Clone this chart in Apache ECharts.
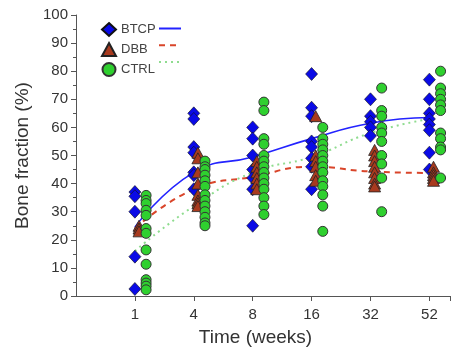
<!DOCTYPE html>
<html>
<head>
<meta charset="utf-8">
<script src="https://cdn.jsdelivr.net/npm/echarts@6/dist/echarts.min.js"></script>
<style>
  html, body { margin: 0; padding: 0; background: #fff; }
  #chart { width: 453px; height: 352px; }
</style>
</head>
<body>
<div id="chart"></div>
<script>
// time points (weeks), drawn at equal spacing
const weeks = ['1', '4', '8', '16', '32', '52'];

// individual measurements per time point
const btcpPoints = [
  [37, 35.5, 30, 14, 2.5],
  [65, 63, 53, 51, 44, 43, 38],
  [60, 56, 50, 45, 42, 38, 25],
  [79, 67, 64, 55, 53, 49, 46, 38],
  [70, 64, 62, 60, 57],
  [77, 70, 65, 63, 61, 59, 51, 45]
];
const dbbPoints = [
  [25, 24, 23],
  [51, 49, 44, 40, 36, 34, 33, 32],
  [48, 46, 44, 42, 40, 38],
  [64, 50, 48, 46, 43, 41],
  [52, 50, 48, 46, 44, 42, 40, 39],
  [46, 44, 43, 42, 41]
];
const ctrlPoints = [
  [35.8, 34, 32.9, 30.5, 28.7, 24, 22.3, 16.4, 11.3, 5.8, 4.6, 3.5, 2.2],
  [48, 46, 45, 43, 41, 39, 36, 34, 32, 30, 28, 26, 25],
  [69, 66, 56, 54, 50, 48, 46, 44, 42, 40, 38, 35, 32, 29],
  [60, 56, 54, 52, 50, 48, 46, 44, 41, 39, 36, 32, 23],
  [74, 66, 64, 60, 58, 55, 50, 47, 42, 30],
  [80, 74, 72, 70, 68, 66, 58, 56, 53, 52, 42]
];

// fitted curves at each time point
const btcpFit = [24.5, 44, 49.5, 56, 61.5, 63.5];
const dbbFit = [24, 38, 42.4, 46, 44.3, 43.8];
const ctrlFit = [16, 32, 44, 49.5, 58, 63];

const yTicks = [0, 10, 20, 30, 40, 50, 60, 70, 80, 90, 100];

function scatterData(groups, offset) {
  const out = [];
  groups.forEach((vals, i) => vals.forEach(v => out.push([i + offset, v])));
  return out;
}
function fitData(vals) {
  return vals.map((v, i) => [i, v]);
}

const chart = echarts.init(document.getElementById('chart'));
const axisColor = '#555';
const textColor = '#333';
const font = 'Liberation Sans, Arial, sans-serif';

chart.setOption({
  animation: false,
  textStyle: { fontFamily: font },
  grid: { left: 76, right: 0, top: 15, bottom: 54 },
  legend: [
    {
      data: ['BTCP', 'DBB', 'CTRL'],
      orient: 'vertical',
      left: 96,
      top: 17,
      itemWidth: 14,
      itemHeight: 13,
      itemGap: 5,
      textStyle: { fontSize: 13, color: '#444', fontFamily: font }
    },
    {
      data: ['BTCP fit', 'DBB fit', 'CTRL fit'],
      orient: 'vertical',
      left: 153,
      top: 17,
      itemWidth: 22,
      itemHeight: 13,
      itemGap: 5,
      formatter: () => '',
      itemStyle: { opacity: 0 },
      textStyle: { fontSize: 13 }
    }
  ],
  xAxis: {
    type: 'value',
    min: -1,
    max: 5.35,
    interval: 1,
    name: 'Time (weeks)',
    nameLocation: 'middle',
    nameGap: 32,
    nameTextStyle: { fontSize: 19, color: textColor, padding: [0, 15, 0, 0] },
    axisLine: { show: true, onZero: false, lineStyle: { color: axisColor } },
    axisTick: { show: true, length: 5, lineStyle: { color: axisColor } },
    axisLabel: {
      margin: 11,
      fontSize: 15,
      color: textColor,
      formatter: v => (Number.isInteger(v) && v >= 0 && v < weeks.length ? weeks[v] : ''),
      showMinLabel: false
    },
    splitLine: { show: false }
  },
  yAxis: {
    type: 'value',
    min: yTicks[0],
    max: yTicks[yTicks.length - 1],
    interval: 10,
    name: 'Bone fraction (%)',
    nameLocation: 'middle',
    nameGap: 39,
    nameTextStyle: { fontSize: 19, color: textColor },
    axisLine: { show: true, onZero: false, lineStyle: { color: axisColor } },
    axisTick: { show: true, length: 5, lineStyle: { color: axisColor } },
    minorTick: { show: true, splitNumber: 2, length: 3, lineStyle: { color: axisColor } },
    axisLabel: { fontSize: 15, color: textColor, margin: 8 },
    splitLine: { show: false }
  },
  series: [
    {
      name: 'BTCP fit', type: 'line', smooth: 0.5, symbol: 'none',
      data: fitData(btcpFit), z: 3,
      lineStyle: { color: '#2323ff', width: 1.6, type: 'solid' },
      itemStyle: { color: '#2323ff' }
    },
    {
      name: 'DBB fit', type: 'line', smooth: 0.5, symbol: 'none',
      data: fitData(dbbFit), z: 3,
      lineStyle: { color: '#d9452a', width: 2, type: [6, 5] },
      itemStyle: { color: '#d9452a' }
    },
    {
      name: 'CTRL fit', type: 'line', smooth: 0.5, symbol: 'none',
      data: fitData(ctrlFit), z: 3,
      lineStyle: { color: '#8fdc8f', width: 2, type: [2, 4] },
      itemStyle: { color: '#8fdc8f' }
    },
    {
      name: 'BTCP', type: 'scatter', symbol: 'diamond', symbolSize: [12, 13],
      data: scatterData(btcpPoints, 0), z: 4,
      itemStyle: { color: '#0a0ae6', borderColor: '#111', borderWidth: 0.6, opacity: 1 }
    },
    {
      name: 'DBB', type: 'scatter', symbol: 'triangle', symbolSize: [12, 11],
      data: scatterData(dbbPoints, 0.07), z: 5,
      itemStyle: { color: '#a83a1e', borderColor: '#222', borderWidth: 0.8, opacity: 1 }
    },
    {
      name: 'CTRL', type: 'scatter', symbol: 'circle', symbolSize: 10,
      data: scatterData(ctrlPoints, 0.19), z: 6,
      itemStyle: { color: '#2fd02f', borderColor: '#333', borderWidth: 1, opacity: 1 }
    }
  ]
});
</script>
</body>
</html>
